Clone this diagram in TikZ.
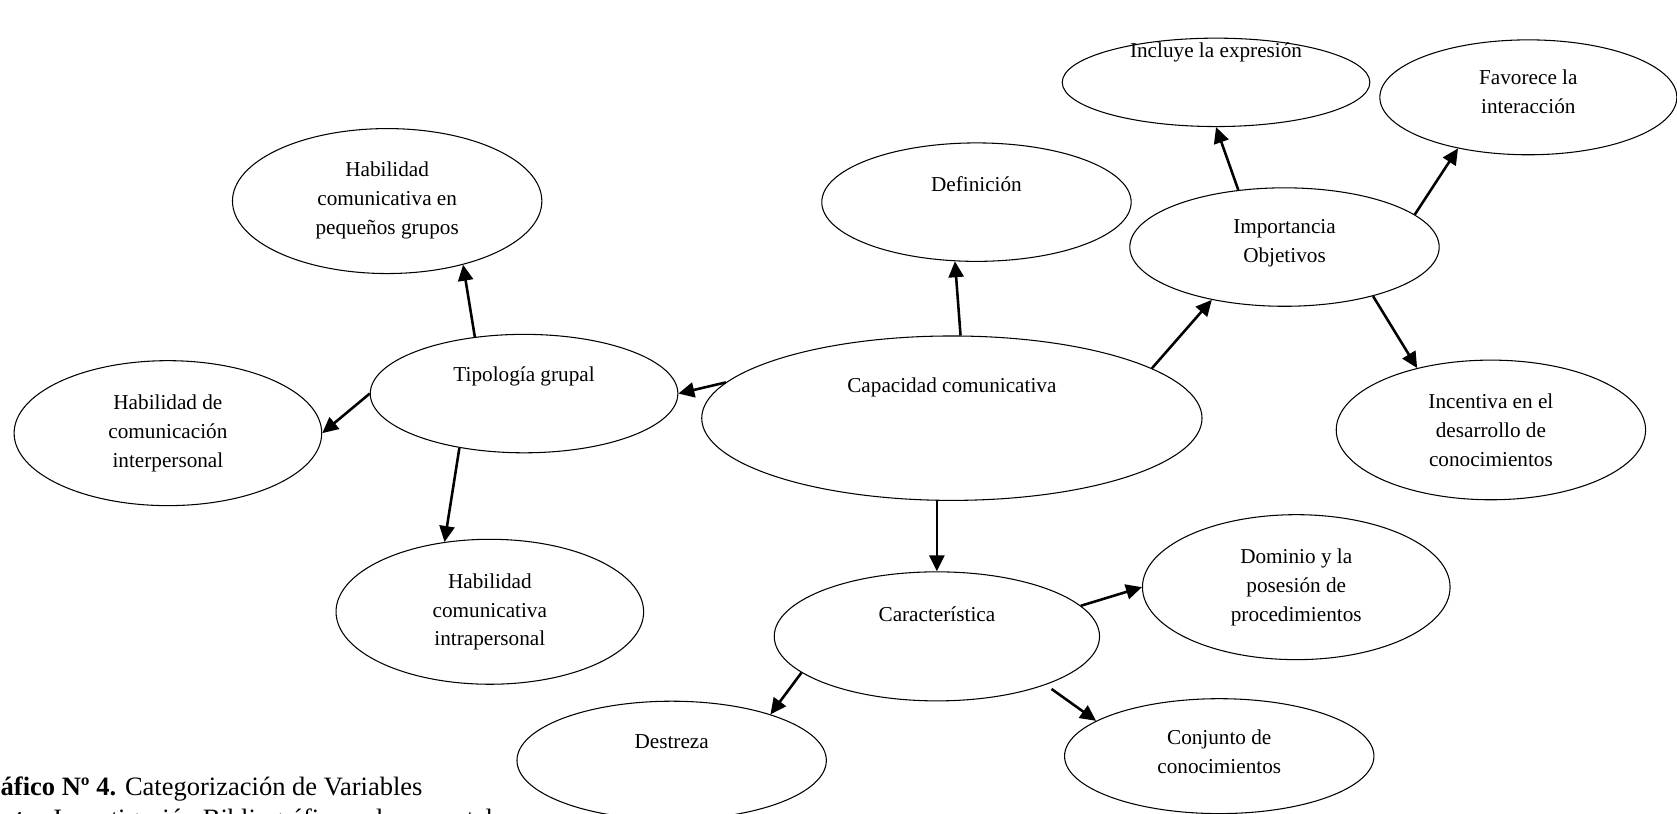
\documentclass[tikz,border=0pt]{standalone}
\usepackage{fontspec}
\setmainfont{Liberation Serif}
\usetikzlibrary{shapes.geometric,arrows.meta}
\begin{document}
\begin{tikzpicture}[x=0.605pt,y=-0.605pt,
    blob/.style n args={4}{ellipse,draw,line width=0.6pt,align=center,
      inner sep=0pt,text height=#3,text depth=#4,minimum width=#1,
      minimum height=#2,font=\fontsize{12}{16.3}\selectfont},
    arr/.style={-{Triangle[length=9pt,width=8.5pt]},line width=1.45pt}]

    \useasboundingbox (0,0) rectangle (1568,761);

    % the ellipses

    \node[blob={174pt}{50pt}{0pt}{27.6pt}] (inc) at (1137,77) {Incluye la expresión};
    \node[blob={168pt}{65pt}{18.2pt}{0pt}] (fav) at (1429,91) {Favorece la\\interacción};
    \node[blob={175pt}{67pt}{0pt}{12pt}] (def) at (913,189) {Definición};
    \node[blob={175pt}{82pt}{37.5pt}{0pt}] (hpg) at (362,188)
    {Habilidad\\comunicativa en\\pequeños grupos};
    \node[blob={175pt}{67pt}{17pt}{0pt}] (imp) at (1201,231) {Importancia\\Objetivos};
    \node[blob={174pt}{67pt}{0pt}{13.3pt}] (tip) at (490,368) {Tipología grupal};
    \node[blob={283pt}{93pt}{0pt}{29pt}] (cap) at (890,391) {Capacidad comunicativa};
    \node[blob={174pt}{82pt}{38.7pt}{0pt}] (hci) at (157,405)
    {Habilidad de\\comunicación\\interpersonal};
    \node[blob={175pt}{79pt}{41pt}{0pt}] (ince) at (1394,402)
    {Incentiva en el\\desarrollo de\\conocimientos};
    \node[blob={174pt}{82pt}{38.7pt}{0pt}] (hin) at (458,572)
    {Habilidad\\comunicativa\\intrapersonal};
    \node[blob={174pt}{82pt}{38.7pt}{0pt}] (dom) at (1212,549)
    {Dominio y la\\posesión de\\procedimientos};
    \node[blob={184pt}{73pt}{0pt}{17pt}] (car) at (876,595) {Característica};
    \node[blob={175pt}{67pt}{0pt}{14pt}] (des) at (628,711) {Destreza};
    \node[blob={175pt}{65pt}{19.4pt}{0pt}] (con) at (1140,707) {Conjunto de\\conocimientos};

    % the caption

    \node[anchor=base west,inner sep=0pt,align=left,
    font=\fontsize{15}{18}\selectfont] (note) at (-30,774)
    {\textbf{Gráfico Nº 4.} Categorización de Variables\\
      \hspace*{-6pt}\textbf{Fuente:} Investigación Bibliográfica y documental};

    % the arrows

    \draw[arr] (tip.131.7) to (hpg.-40.2);
    \draw[arr] (tip.180) to (hci.east);
    \draw[arr] (tip.220.3) to (hin.123.7);
    \draw[arr] (cap.171.2) to (tip.east);
    \draw[arr] (cap.84.7) to (def.250.3);
    \draw[arr] (cap.14) to (imp.216);
    \draw[arr] (imp.129.7) to (inc.south);
    \draw[arr] (imp.14.3) to (fav.216.6);
    \draw[arr] (imp.331.3) to (ince.140.3);
    \draw[arr] (cap.south -| car.north) to (car.north);
    \draw[arr] (car.12.8) to (dom.west);
    \draw[arr] (car.195.2) to (des.25.8);
    \draw[arr,shorten <=4pt] (car.336) to (con.164.4);
  \end{tikzpicture}
\end{document}
